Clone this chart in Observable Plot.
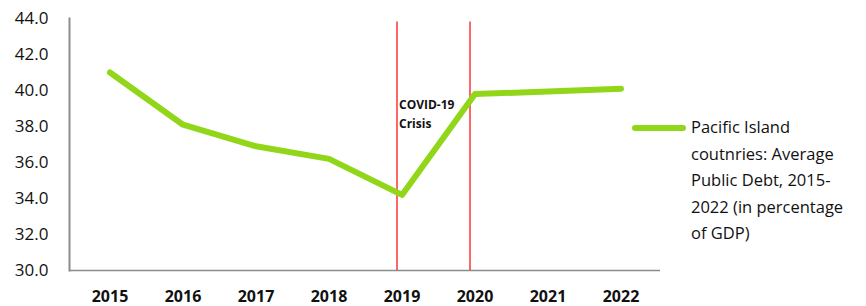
<!DOCTYPE html>
<html>
<head>
<meta charset="utf-8">
<script src="https://cdn.jsdelivr.net/npm/d3@7"></script>
<script src="https://cdn.jsdelivr.net/npm/@observablehq/plot@0.6"></script>
<style>
  html, body { margin: 0; padding: 0; background: #fff; }
  #wrap { position: relative; width: 866px; height: 306px; font-family: "Open Sans", sans-serif; }
  #legend { position: absolute; left: 632px; top: 114px; display: flex; align-items: flex-start; }
  #legend .swatch { width: 54px; height: 6px; border-radius: 3px; background: #92D61A; margin-top: 11px; margin-right: 5px; flex: none; }
  #legend .label { font-size: 16.5px; line-height: 26.5px; color: #111; white-space: nowrap; }
</style>
</head>
<body>
<div id="wrap"><div id="legend"><div class="swatch"></div><div class="label"></div></div></div>
<script>
const years = ["2015", "2016", "2017", "2018", "2019", "2020", "2021", "2022"];
const debt = [41.0, 38.1, 36.9, 36.2, 34.2, 39.8, 39.95, 40.1];
const crisisYears = ["2019", "2020"];
const yTicks = [30, 32, 34, 36, 38, 40, 42, 44];
const annotation = ["COVID-19\nCrisis"];
const legendLines = ["Pacific Island", "coutnries: Average", "Public Debt, 2015-", "2022 (in percentage", "of GDP)"];

const data = years.map((y, i) => ({year: y, value: debt[i]}));

const chart = Plot.plot({
  width: 866,
  height: 306,
  marginLeft: 69,
  marginRight: 206,
  marginTop: 18,
  marginBottom: 36,
  style: {fontFamily: "Open Sans, sans-serif", background: "#fff", overflow: "visible"},
  x: {type: "band", domain: years, padding: 0, label: null},
  y: {domain: [30, 44], label: null},
  marks: [
    Plot.axisY({ticks: yTicks, tickFormat: d3.format(".1f"), tickSize: 0, tickPadding: 21, fontSize: 17, fill: "#111", label: null}),
    Plot.axisX({tickSize: 0, tickPadding: 20, fontSize: 16, fontWeight: "bold", fill: "#111", label: null}),
    Plot.frame({anchor: "left", stroke: "#8c8c8c", strokeWidth: 2}),
    Plot.ruleY([30], {stroke: "#8c8c8c", strokeWidth: 1.5}),
    Plot.ruleX(crisisYears, {x: d => d, y1: 30, y2: 43.8, stroke: "#ff0000", strokeWidth: 1.2, dx: -5}),
    Plot.lineY(data, {x: "year", y: "value", stroke: "#92D61A", strokeWidth: 6, strokeLinecap: "round", strokeLinejoin: "round"}),
    Plot.text(annotation, {x: () => "2019", y: () => 38.8, text: d => d, textAnchor: "start", lineAnchor: "middle", dx: -3, fontSize: 12, fontWeight: "bold", lineHeight: 1.65, fill: "#111"})
  ]
});

document.getElementById("wrap").prepend(chart);
document.querySelector("#legend .label").innerHTML = legendLines.join("<br>");
</script>
</body>
</html>
